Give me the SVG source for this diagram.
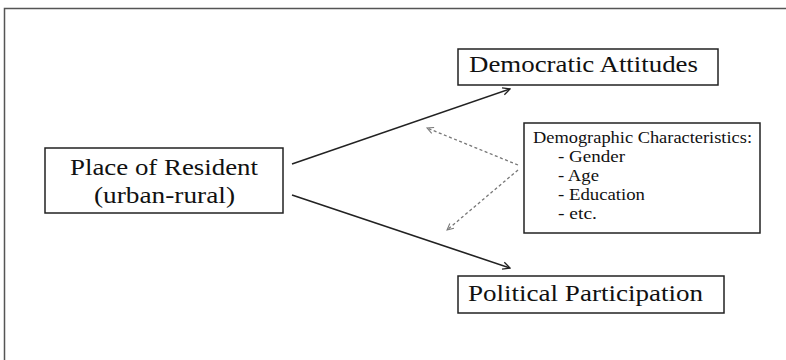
<svg xmlns="http://www.w3.org/2000/svg" width="786" height="360" viewBox="0 0 786 360">
<style>
.box{fill:#fff;stroke:#222;stroke-width:1.5}
.t{font-family:"Liberation Serif",serif;fill:#111}
.big{font-size:23px}
.small{font-size:16.5px}
.solid{stroke:#222;stroke-width:1.6;fill:none}
.dash{stroke:#777;stroke-width:1.3;stroke-dasharray:3,2.5;fill:none}
</style>
<defs>
<marker id="ah" viewBox="0 0 10 10" refX="9" refY="5" markerWidth="9" markerHeight="9" markerUnits="userSpaceOnUse" orient="auto">
<path d="M1,1 L9,5 L1,9" fill="none" stroke="#222" stroke-width="1.4"/>
</marker>
<marker id="ahd" viewBox="0 0 10 10" refX="9" refY="5" markerWidth="8" markerHeight="8" markerUnits="userSpaceOnUse" orient="auto">
<path d="M1,1 L9,5 L1,9" fill="none" stroke="#777" stroke-width="1.3"/>
</marker>
</defs>
<rect width="786" height="360" fill="#fff"/>
<path d="M4.5,360 V8.5 H786" fill="none" stroke="#555" stroke-width="1.5"/>
<g id="connectors">
<line class="solid" x1="292" y1="164" x2="510" y2="89" marker-end="url(#ah)"/>
<line class="solid" x1="292" y1="195" x2="510" y2="268" marker-end="url(#ah)"/>
<line class="dash" x1="518" y1="165" x2="427" y2="128" marker-end="url(#ahd)"/>
<line class="dash" x1="518" y1="170" x2="447" y2="230" marker-end="url(#ahd)"/>
</g>
<g id="place">
<rect class="box" x="45" y="148" width="238" height="65"/>
<text class="t big" x="70" y="175" textLength="188" lengthAdjust="spacingAndGlyphs">Place of Resident</text>
<text class="t big" x="94" y="203" textLength="141" lengthAdjust="spacingAndGlyphs">(urban-rural)</text>
</g>
<g id="democratic">
<rect class="box" x="458" y="49" width="260" height="36"/>
<text class="t big" x="469" y="72" textLength="229" lengthAdjust="spacingAndGlyphs">Democratic Attitudes</text>
</g>
<g id="participation">
<rect class="box" x="458" y="276" width="266" height="37"/>
<text class="t big" x="468" y="301" textLength="235" lengthAdjust="spacingAndGlyphs">Political Participation</text>
</g>
<g id="demographic">
<rect class="box" x="524" y="123" width="236" height="110"/>
<text class="t small" x="533" y="143" textLength="219" lengthAdjust="spacingAndGlyphs">Demographic Characteristics:</text>
<text class="t small" x="558" y="162" textLength="67" lengthAdjust="spacingAndGlyphs">- Gender</text>
<text class="t small" x="558" y="181" textLength="41" lengthAdjust="spacingAndGlyphs">- Age</text>
<text class="t small" x="558" y="200" textLength="87" lengthAdjust="spacingAndGlyphs">- Education</text>
<text class="t small" x="558" y="219" textLength="39" lengthAdjust="spacingAndGlyphs">- etc.</text>
</g>
</svg>
